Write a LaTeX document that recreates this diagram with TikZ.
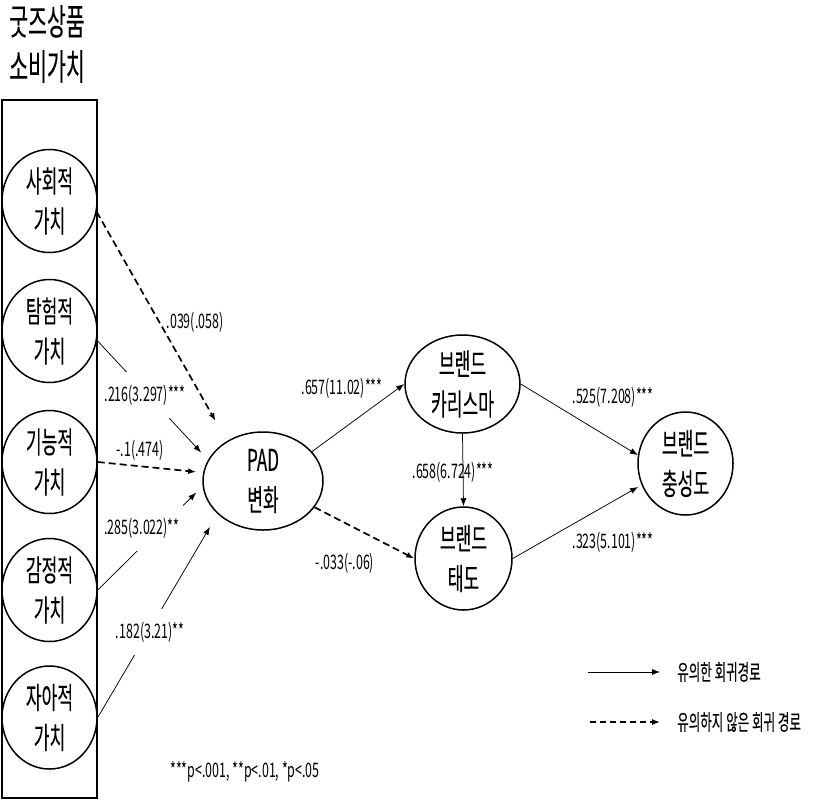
\documentclass[tikz,border=0pt]{standalone}
\usepackage{fontspec}
\setmainfont{Noto Sans CJK KR}[FakeStretch=0.62]
\newfontfamily\hfont{Noto Sans CJK KR}[FakeStretch=0.57,FakeBold=0.15]
\usetikzlibrary{shapes.geometric,arrows.meta}

\begin{document}
\begin{tikzpicture}[x=1pt,y=-1pt,
  factor/.style={draw,ellipse,line width=1.5pt,inner sep=0pt,align=center,font=\hfont\fontsize{30}{40}\selectfont},
  coef/.style={font=\fontsize{20}{24}\selectfont,inner sep=1pt},
  coefcut/.style={coef,fill=white,inner xsep=3pt,inner ysep=13pt},
  sig/.style={-{Latex[length=8pt,width=6pt]},line width=0.75pt},
  nonsig/.style={-{Latex[length=8pt,width=6pt]},line width=1.7pt,dash pattern=on 7pt off 4pt}]
  \useasboundingbox (0,0) rectangle (821,801);
  % consumption values
  \node[font=\hfont\fontsize{36}{45}\selectfont,align=center] (title) at (47,44) {굿즈상품\\소비가치};
  \draw[line width=1.3pt] (2,100) rectangle (97,798);
  \node[factor,minimum width=95pt,minimum height=103pt] (soc) at (49.5,201) {사회적\\가치};
  \node[factor,minimum width=95pt,minimum height=103pt] (exp) at (49.5,331) {탐험적\\가치};
  \node[factor,minimum width=95pt,minimum height=103pt] (fun) at (49.5,462) {기능적\\가치};
  \node[factor,minimum width=95pt,minimum height=103pt] (emo) at (49.5,590) {감정적\\가치};
  \node[factor,minimum width=95pt,minimum height=103pt] (self) at (49.5,717.5) {자아적\\가치};
  % mediators and outcome
  \node[factor,minimum width=120pt,minimum height=98pt] (pad) at (263,481) {PAD\\변화};
  \node[factor,minimum width=115pt,minimum height=98pt] (cha) at (462.5,384) {브랜드\\카리스마};
  \node[factor,minimum width=97pt,minimum height=103pt] (att) at (463.5,558.5) {브랜드\\태도};
  \node[factor,minimum width=95pt,minimum height=103pt] (loy) at (685.5,463.5) {브랜드\\충성도};
  % paths
  \draw[nonsig,shorten >=23pt] (soc.-13) -- (pad.132);
  \draw[sig,shorten >=10pt] (exp.-11) -- (pad.159);
  \draw[nonsig,shorten >=7pt] (fun.east) -- (pad.172);
  \draw[sig,shorten >=9pt] (emo.east) -- (pad.185);
  \draw[sig,shorten >=15pt] (self.east) -- (pad.216);
  \draw[sig] (pad.31) -- (cha.west);
  \draw[nonsig] (pad.-27) -- (att.west);
  \draw[sig] (cha.south) -- (att.north);
  \draw[sig] (cha.east) -- (loy.170);
  \draw[sig,shorten >=4pt] (att.east) -- (loy.206);
  % coefficients
  \node[coef] (c1) at (195,322) {.039(.058)};
  \node[coefcut] (c2) at (145,395) {.216(3.297)***};
  \node[coef] (c3) at (140,450) {-.1(.474)};
  \node[coefcut] (c4) at (142,528) {.285(3.022)**};
  \node[coefcut] (c5) at (150,632) {.182(3.21)**};
  \node[coef] (c6) at (342,388) {.657(11.02)***};
  \node[coef] (c7) at (345,563) {-.033(-.06)};
  \node[coef] (c8) at (453,472) {.658(6.724)***};
  \node[coef] (c9) at (613,397) {.525(7.208)***};
  \node[coef] (c10) at (613,542) {.323(5.101)***};
  \node[coef] (note) at (245,772) {***p<.001, **p<.01, *p<.05};
  % legend
  \coordinate (sigs) at (588,672);
  \coordinate (nss) at (590,722);
  \node[anchor=west,inner sep=0pt,font=\hfont\fontsize{22}{26}\selectfont] (sigt) at (677,672) {유의한 회귀경로};
  \node[anchor=west,inner sep=0pt,font=\hfont\fontsize{22}{26}\selectfont] (nst) at (677,722) {유의하지 않은 회귀 경로};
  \draw[sig,shorten >=17pt] (sigs) -- (sigt.west);
  \draw[nonsig,line width=1.3pt,dash pattern=on 6pt off 4pt,shorten >=17pt] (nss) -- (nst.west);
\end{tikzpicture}
\end{document}
